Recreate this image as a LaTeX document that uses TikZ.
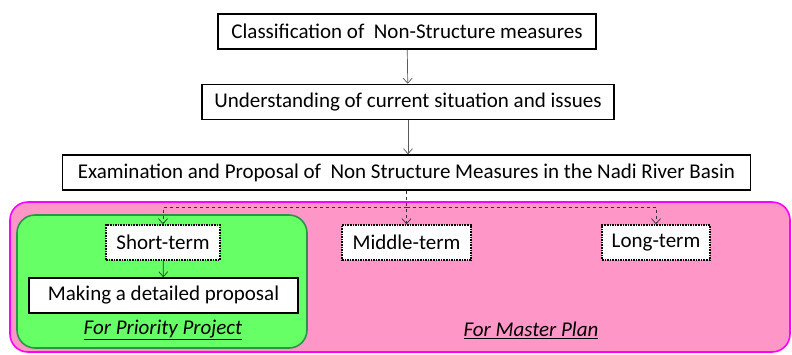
\documentclass[tikz,border=0pt]{standalone}
\usepackage{fontspec}
\setmainfont{Carlito}
\usetikzlibrary{arrows.meta}
\definecolor{pinkfill}{RGB}{255,150,200}
\definecolor{magentaedge}{RGB}{255,0,255}
\definecolor{greenfill}{RGB}{102,255,102}
\definecolor{greenedge}{RGB}{40,150,70}
\tikzset{
  solidbox/.style={draw=black, line width=1.6pt, fill=white, inner sep=0pt,
    minimum height=35pt, font=\fontsize{21}{24}\selectfont},
  dotbox/.style={solidbox, densely dotted},
  flowarrow/.style={draw=black!65, line width=0.7pt,
    -{Straight Barb[length=5pt,width=9pt,line width=0.7pt]}},
  dasharrow/.style={draw=black!80, line width=0.7pt, dashed,
    -{Straight Barb[length=5pt,width=9pt,line width=0.7pt]}},
  caption/.style={font=\fontsize{21}{24}\selectfont\itshape}
}
\begin{document}
\begin{tikzpicture}[x=1pt,y=-1pt]
\useasboundingbox (0,0) rectangle (792,354);
% grouping panels
\draw[fill=pinkfill, draw=magentaedge, line width=1.6pt, rounded corners=18pt]
  (10,202) rectangle (790,352);
\draw[fill=greenfill, draw=greenedge, line width=1.6pt, rounded corners=18pt]
  (17,215) rectangle (307,348);
% main flow
\node[solidbox, minimum width=378pt] (cls) at (407,31.5) {Classification of\ \ Non-Structure measures};
\node[solidbox, minimum width=412pt] (und) at (408,102) {Understanding of current situation and issues};
\node[solidbox, minimum width=688pt] (exa) at (406.5,172.5) {Examination and Proposal of\ \ Non Structure Measures in the Nadi River Basin};
% terms
\node[dotbox, minimum width=114pt] (short) at (163,242.5) {Short-term};
\node[dotbox, minimum width=129pt] (mid) at (406.5,242.5) {Middle-term};
\node[dotbox, minimum width=108pt] (long) at (656,242.5) {Long-term};
\node[solidbox, minimum width=269pt] (prop) at (163.5,295.5) {Making a detailed proposal};
% captions
\node[caption] (pp) at (163,330) {\underline{For Priority Project}};
\node[caption] (mp) at (531,330) {\underline{For Master Plan}};
% connectors
\draw[flowarrow] (cls) -- (und);
\draw[flowarrow] (und.south) -- (und.south |- exa.north);
\coordinate (split) at (406.5,207);
\draw[dasharrow] (exa.south) -- (split) -- (mid.north);
\draw[dasharrow] (split) -| (short.north);
\draw[dasharrow] (split) -| (long.north);
\draw[flowarrow, draw=black!80] (short) -- (prop);
\end{tikzpicture}
\end{document}
